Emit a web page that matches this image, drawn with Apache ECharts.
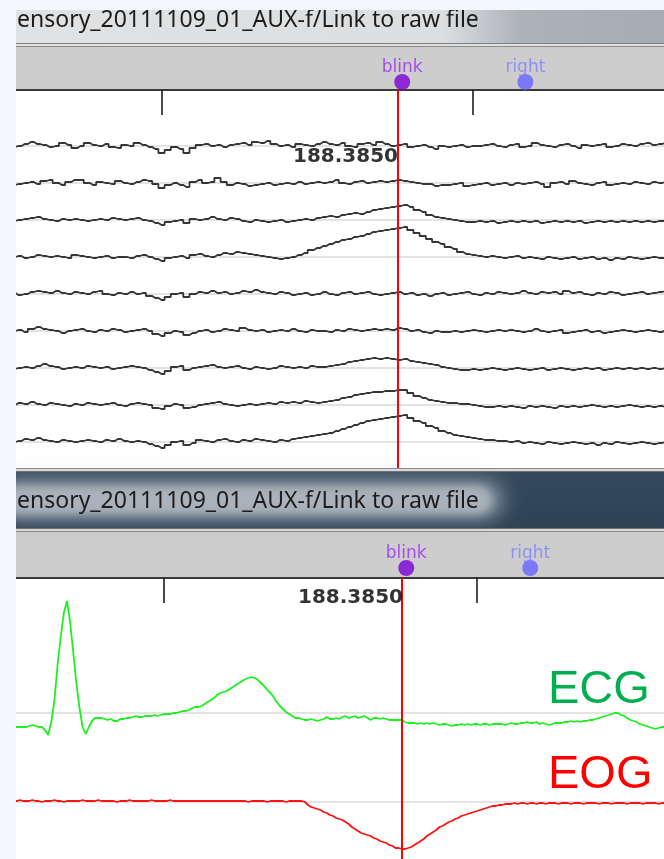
<!DOCTYPE html>
<html><head><meta charset="utf-8">
<script src="https://cdn.jsdelivr.net/npm/echarts@6/dist/echarts.min.js"></script>
<style>html,body{margin:0;padding:0;background:#f3f6fa;overflow:hidden}#c{width:664px;height:859px}</style>
</head><body><div id="c"></div>
<script>
// ---------- data ----------
const FILE_TITLE = 'sensory_20111109_01_AUX-f/Link to raw file';
const TIME_START = 187.76;      // first sample (s)
const EEG_STEP = 0.01;          // EEG sample spacing (s)
const AUX_STEP = 0.005;         // ECG/EOG sample spacing (s)
const CURSOR_TIME = 188.385;
const TICK_TIMES = [188.0, 188.5];
const EVENT_NAMES = ['blink', 'right'];
const EVENT_TIMES = [188.387, 188.585];
const AUX_NAMES = ['ECG', 'EOG'];

const EEG_CH1 = [-1,0,2,4,2,1,-1,0,3,1, -2,0,3,1,0,2,-1,-2,1,0, 3,1,-1,-3,-7,-4,-1,-3,-7,-2, 1,2,0,1,-1,1,2,3,1,4, 3,5,2,0,1,-1,2,1,0,2, 4,2,1,3,0,-1,2,3,1,4, 2,0,1,2,-1,0,1,-1,-3,0, -1,0,1,-1,0,0,1,2,0,-1, 1,2,-1,0,3,1,0,-1,1,2, 0,-2,1,0,1,2,-1,0,2,1, 0,2,3,1,2,3];
const EEG_CH2 = [-2,-1,0,1,-1,2,3,0,-2,1, 3,3,0,-2,1,0,-1,2,0,-1, 1,3,2,-1,-5,-2,0,-2,-4,1, 3,0,1,5,1,-2,0,-1,-3,-2, -1,0,-2,-1,0,-1,1,-1,0,1, 0,1,3,0,-1,1,2,0,1,2, 1,2,3,2,1,0,-1,-1,-3,-2, -2,-1,0,-3,-2,-1,0,-2,-1,0, -2,0,-1,0,1,-1,-4,0,1,-1, 2,0,-1,-2,0,1,-2,-1,0,-1, 1,0,-1,1,0,1];
const EEG_CH3 = [-1,0,1,2,3,1,0,-1,1,0, 1,0,-1,0,1,0,2,1,0,1, 2,0,-1,-3,-5,-2,-1,0,-3,1, 0,1,3,1,0,2,1,-1,-2,0, -1,-2,-1,0,-2,-1,0,1,0,2, 3,4,3,5,6,7,6,8,10,11, 12,13,14,15,13,10,8,5,3,2, 1,0,-1,-2,-2,-1,-2,-1,-3,-2, -1,-2,-1,-2,-1,-3,-2,-1,-2,-1, -2,-1,-3,-2,-1,-2,-1,-2,-1,-2, -1,-2,-1,-2,-1,-1];
const EEG_CH4 = [0,1,-1,0,2,1,0,1,0,-1, 2,1,0,-1,0,1,-1,0,0,-1, 1,2,0,-2,-4,-1,0,1,-1,2, 3,1,0,2,4,3,5,4,3,2, 1,0,-1,-2,-1,0,2,4,7,9, 11,13,15,17,18,20,21,23,25,26, 27,28,29,30,27,24,21,18,15,13, 10,8,5,3,2,1,0,1,0,-1, 0,1,-1,0,-1,-2,0,-1,-2,-1, 0,-2,-1,0,-2,-1,-3,-1,-2,0, -1,-2,-1,0,-1,-1];
const EEG_CH5 = [1,-1,0,2,3,2,1,3,1,0, 2,1,0,2,3,0,-1,1,0,2, 0,1,-2,-4,-6,-3,0,1,-3,0, 2,1,3,1,2,0,1,3,2,4, 2,1,0,2,1,-1,0,1,-1,0, 2,0,-1,1,2,0,1,2,0,-1, 0,1,2,0,1,-1,0,-2,0,1, -1,0,1,2,0,-1,1,0,2,1, 0,1,3,1,0,2,1,2,0,3, 1,2,0,-1,1,0,2,1,-1,0, 1,2,0,1,2,3];
const EEG_CH6 = [0,1,-1,2,4,2,1,0,-2,0, 1,2,0,-1,1,0,2,1,-1,0, 1,2,0,-3,-5,-2,0,-1,-4,-2, 0,1,-1,0,2,1,0,3,1,0, 1,-1,0,1,0,2,0,-1,1,0, 0,-1,1,0,2,1,0,1,2,1, 2,1,3,2,0,1,-1,-2,0,-1, -1,0,-1,0,1,0,-1,0,1,0, 1,0,-1,0,2,0,-1,0,1,-2, -1,0,1,-1,0,-2,-1,0,1,0, -1,0,1,0,-1,1];
const EEG_CH7 = [-1,0,1,0,2,4,2,1,-1,0, 1,0,2,1,0,1,-1,0,1,2, 1,0,-2,-4,-6,-3,1,2,-2,0, 1,2,3,1,0,1,2,0,-1,1, 0,-1,0,2,1,0,1,0,2,1, 1,2,3,4,6,7,8,9,10,9, 10,9,8,9,7,6,5,4,3,1, 0,-1,-2,-2,-1,-2,-1,0,-1,-2, -1,0,-1,-2,-1,0,-2,-1,0,-1, -2,-1,0,-1,0,-2,-1,0,-1,0, -1,0,-1,0,-1,0];
const EEG_CH8 = [0,2,1,3,1,0,2,1,0,-1, 1,0,2,1,0,1,2,0,-1,1, 2,1,0,-3,-4,-1,1,0,-3,-2, 0,1,2,3,1,0,-1,0,1,0, 1,2,1,3,2,3,2,4,3,2, 3,4,5,7,8,10,11,12,13,13, 14,14,15,15,12,9,7,5,4,3, 2,2,1,1,0,-1,-2,-2,-1,-2, -1,-2,-3,-1,-2,-1,-2,-3,-1,-2, -1,-2,-1,0,-1,-2,-1,-2,-1,0, -1,-2,-1,-2,-1,-2];
const EEG_CH9 = [0,1,3,2,4,2,1,0,2,1, 0,1,2,1,0,2,1,3,1,0, 1,0,-2,-4,-6,-3,0,1,-3,-1, 2,1,0,2,3,1,0,2,1,3, 2,1,0,2,1,3,4,5,6,7, 8,9,11,13,15,17,19,21,22,23, 24,25,26,27,24,21,19,16,14,11, 9,7,6,5,4,3,2,2,1,1, 0,1,-1,0,-1,-2,0,-1,-2,-1, 0,-1,-2,-1,-3,-1,-2,0,-1,-2, -1,0,-1,-2,-1,0];

const ECG = [-14,-14,-14,-14,-14,-13,-12,-13,-14,-14, -17,-22,-9,13,48,76,100,112,91,61, 30,5,-14,-21,-14,-8,-5,-5,-5,-6, -7,-6,-8,-8,-6,-6,-5,-5,-4,-3, -4,-4,-3,-3,-3,-2,-3,-2,-1,-1, -1,0,0,1,2,2,3,5,6,6, 7,9,11,13,15,18,20,21,22,24, 26,28,30,32,34,35,36,35,33,30, 27,23,20,16,11,7,4,1,-1,-3, -5,-5,-6,-7,-7,-6,-7,-8,-7,-6, -4,-6,-6,-5,-6,-4,-3,-5,-4,-3, -5,-4,-3,-5,-7,-5,-5,-6,-5,-6, -7,-7,-7,-7,-7,-9,-10,-10,-10,-11, -10,-11,-10,-11,-10,-11,-12,-11,-11,-12, -13,-12,-12,-11,-12,-11,-12,-11,-11,-12, -11,-11,-12,-11,-11,-11,-11,-12,-11,-10, -11,-11,-10,-10,-9,-10,-10,-9,-11,-10, -11,-12,-11,-10,-10,-10,-9,-9,-8,-9, -8,-9,-8,-8,-7,-7,-6,-5,-4,-3, -2,-1,0,0,-2,-3,-5,-7,-8,-9, -11,-12,-13,-14,-15,-16,-15,-14,-14,-14];
const EOG = [1,1,2,1,1,1,2,1,1,0, 1,1,1,2,1,1,0,1,1,1, 1,1,2,1,1,1,1,2,1,1, 1,1,1,0,1,1,1,2,1,1, 1,1,1,1,2,1,1,1,1,1, 2,1,1,1,1,1,1,1,1,1, 1,1,1,1,1,1,1,1,1,1, 1,1,1,1,1,0,1,1,1,1, 1,0,1,1,1,1,1,0,1,1, 1,1,1,0,-3,-5,-6,-7,-8,-10, -11,-13,-14,-16,-17,-18,-20,-22,-25,-27, -29,-31,-32,-33,-34,-36,-37,-39,-40,-41, -43,-44,-46,-46,-47,-47,-46,-45,-43,-41, -39,-37,-34,-32,-30,-28,-25,-24,-22,-20, -19,-17,-16,-14,-13,-12,-11,-10,-9,-8, -7,-6,-5,-4,-4,-3,-3,-2,-2,-2, -1,-2,-1,-1,-2,-1,-1,-2,-1,-1, -2,-1,-1,-1,-2,-1,-1,-1,-2,-1, -1,-1,-2,-1,-1,-1,-1,-2,-1,-1, -1,-2,-1,-1,-1,-1,-2,-1,-1,-1, -1,-2,-1,-1,-1,-1,-2,-1,-1,-1];

// ---------- layout / style ----------
const EEG_CHANNELS = [EEG_CH1, EEG_CH2, EEG_CH3, EEG_CH4, EEG_CH5, EEG_CH6, EEG_CH7, EEG_CH8, EEG_CH9];
const CH_TOP = 322, CH_SPACING = 37;           // display offsets (px-like units)
const AUX_OFFSETS = [146, 57];
const AUX_COLORS = ['#1ef01e', '#ff1212'];
const AUX_TEXT_COLORS = ['#00b050', '#ff0000'];
const EVENT_COLORS = ['#7d00d6', '#6464ff'];
const EVENT_LABEL_COLORS = ['#9a2cf0', '#7f7fff'];

const TOP_X = {min: 187.766077, max: 188.807878};
const BOT_X = {min: 187.763578, max: 188.798722};

const times = (n, step) => Array.from({length: n}, (_, i) => +(TIME_START + i * step).toFixed(4));
const eegT = times(EEG_CH1.length, EEG_STEP);
const auxT = times(ECG.length, AUX_STEP);

const chart = echarts.init(document.getElementById('c'), null, {renderer: 'canvas'});

const grids = [
  {left: 16, right: 0, top: 47, height: 43, show: true, backgroundColor: '#cdcdcd', borderWidth: 0},
  {left: 16, right: 0, top: 90, height: 378, show: true, backgroundColor: '#ffffff', borderWidth: 0},
  {left: 16, right: 0, top: 532, height: 45, show: true, backgroundColor: '#cdcdcd', borderWidth: 0},
  {left: 16, right: 0, top: 578, height: 281, show: true, backgroundColor: '#ffffff', borderWidth: 0}
];
function xAx(gi, range, ticks) {
  return {
    type: 'value', gridIndex: gi, min: range.min, max: range.max, position: 'top',
    axisLabel: {show: false}, splitLine: {show: false},
    axisLine: {show: ticks, onZero: false, lineStyle: {color: '#3a3a3a', width: 2}},
    axisTick: ticks ? {show: true, inside: true, length: 25, customValues: TICK_TIMES, lineStyle: {color: '#111', width: 1.5}} : {show: false}
  };
}
const xAxes = [xAx(0, TOP_X, false), xAx(1, TOP_X, true), xAx(2, BOT_X, false), xAx(3, BOT_X, true)];
const yAxes = [
  {type: 'value', gridIndex: 0, min: 0, max: 43, show: false},
  {type: 'value', gridIndex: 1, min: 0, max: 378, show: false},
  {type: 'value', gridIndex: 2, min: 0, max: 45, show: false},
  {type: 'value', gridIndex: 3, min: 0, max: 281, show: false}
];

const series = [];
// baselines (light gray) for EEG, below traces
series.push({type: 'line', xAxisIndex: 1, yAxisIndex: 1, data: [], z: 1, silent: true,
  markLine: {z: 1, symbol: 'none', silent: true, label: {show: false}, lineStyle: {color: '#e3e3e3', width: 2, type: 'solid'},
    data: EEG_CHANNELS.map((_, k) => ({yAxis: CH_TOP - k * CH_SPACING}))}});
EEG_CHANNELS.forEach((vals, k) => {
  series.push({type: 'line', xAxisIndex: 1, yAxisIndex: 1, symbol: 'none', z: 3, silent: true, step: 'middle',
    lineStyle: {color: '#363636', width: 1.8},
    data: vals.map((v, i) => [eegT[i], CH_TOP - k * CH_SPACING + v])});
});
series.push({type: 'line', xAxisIndex: 3, yAxisIndex: 3, data: [], z: 1, silent: true,
  markLine: {z: 1, symbol: 'none', silent: true, label: {show: false}, lineStyle: {color: '#e3e3e3', width: 2, type: 'solid'},
    data: AUX_OFFSETS.map(o => ({yAxis: o}))}});
[ECG, EOG].forEach((vals, k) => {
  series.push({type: 'line', xAxisIndex: 3, yAxisIndex: 3, symbol: 'none', z: 3, silent: true,
    lineStyle: {color: AUX_COLORS[k], width: 1.8},
    data: vals.map((v, i) => [auxT[i], AUX_OFFSETS[k] + v])});
});
// cursor lines + labels
[[1, 311, 3], [3, 261, 2]].forEach(([gi, ly, dist]) => {
  series.push({type: 'scatter', xAxisIndex: gi, yAxisIndex: gi, symbolSize: 0, z: 6, silent: true,
    data: [[CURSOR_TIME, ly]],
    label: {show: true, position: 'left', distance: dist, formatter: p => p.value[0].toFixed(4),
      fontFamily: '"DejaVu Sans"', fontWeight: 'bold', fontSize: 20, color: '#000'},
    markLine: {z: 6, symbol: 'none', silent: true, label: {show: false}, lineStyle: {color: '#ff0000', width: 2, type: 'solid'},
      data: [{xAxis: CURSOR_TIME}]}});
});
// events
[[0, 8], [2, 9]].forEach(([gi, row]) => {
  series.push({type: 'scatter', xAxisIndex: gi, yAxisIndex: gi, symbol: 'circle', symbolSize: 16, z: 6, silent: true,
    data: EVENT_TIMES.map((t, i) => ({value: [t, row], name: EVENT_NAMES[i],
      itemStyle: {color: EVENT_COLORS[i]},
      label: {show: true, position: 'top', distance: -2, formatter: '{b}', color: EVENT_LABEL_COLORS[i],
        fontFamily: '"DejaVu Sans"', fontSize: 17}}))});
});

const titleFont = '23px "Noto Sans"';
const graphic = [
  // top title bar
  {type: 'rect', shape: {x: 16, y: 10, width: 648, height: 33}, z: 0, silent: true,
    style: {fill: new echarts.graphic.LinearGradient(0, 0, 1, 0, [
      {offset: 0, color: '#e0e2e4'}, {offset: 0.66, color: '#dcdee0'}, {offset: 0.72, color: '#c4c8cc'},
      {offset: 0.78, color: '#adb2b7'}, {offset: 1, color: '#a7acb1'}])}},
  {type: 'text', x: 6, y: 20, z: 2, silent: true, style: {text: FILE_TITLE, font: titleFont, fill: '#1c1c1c', verticalAlign: 'middle'}},
  {type: 'rect', shape: {x: 16, y: 43, width: 648, height: 1}, z: 2, silent: true, style: {fill: '#7b8085'}},
  {type: 'rect', shape: {x: 16, y: 44, width: 648, height: 2}, z: 2, silent: true, style: {fill: '#e0e0e0'}},
  {type: 'rect', shape: {x: 16, y: 46, width: 648, height: 1}, z: 2, silent: true, style: {fill: '#8a8a8a'}},
  // bottom title bar
  {type: 'rect', shape: {x: 16, y: 468, width: 648, height: 1}, z: 2, silent: true, style: {fill: '#8a8a8a'}},
  {type: 'rect', shape: {x: 16, y: 469, width: 648, height: 2}, z: 2, silent: true, style: {fill: '#d8d8d8'}},
  {type: 'rect', shape: {x: 16, y: 471, width: 648, height: 1}, z: 2, silent: true, style: {fill: '#6d7278'}},
  {type: 'rect', shape: {x: 16, y: 472, width: 648, height: 56}, z: 0, silent: true,
    style: {fill: new echarts.graphic.LinearGradient(0, 0, 0, 1, [{offset: 0, color: '#34495d'}, {offset: 1, color: '#2e4256'}])}},
  // soft glow behind the title text (shadow of an off-screen rect)
  {type: 'rect', shape: {x: 1000, y: 484, width: 500, height: 32, r: 14}, z: 1, silent: true,
    style: {fill: '#aab3bc', shadowBlur: 22, shadowColor: '#aab3bc', shadowOffsetX: -1000}},
  {type: 'rect', shape: {x: 1000, y: 487, width: 490, height: 26, r: 12}, z: 1, silent: true,
    style: {fill: '#aab3bc', shadowBlur: 10, shadowColor: '#aab3bc', shadowOffsetX: -1000}},
  {type: 'text', x: 6, y: 501, z: 2, silent: true, style: {text: FILE_TITLE, font: titleFont, fill: '#1c1c1c', verticalAlign: 'middle'}},
  {type: 'rect', shape: {x: 16, y: 528, width: 648, height: 1}, z: 2, silent: true, style: {fill: '#6d7278'}},
  {type: 'rect', shape: {x: 16, y: 529, width: 648, height: 2}, z: 2, silent: true, style: {fill: '#d8d8d8'}},
  {type: 'rect', shape: {x: 16, y: 531, width: 648, height: 1}, z: 2, silent: true, style: {fill: '#8a8a8a'}},
  // channel names
  {type: 'text', x: 548, y: 690, z: 10, silent: true, style: {text: AUX_NAMES[0], font: '47px "Liberation Sans"', fill: AUX_TEXT_COLORS[0], verticalAlign: 'middle'}},
  {type: 'text', x: 548, y: 775, z: 10, silent: true, style: {text: AUX_NAMES[1], font: '47px "Liberation Sans"', fill: AUX_TEXT_COLORS[1], verticalAlign: 'middle'}},
  // page margin covering clipped title text
  {type: 'rect', shape: {x: 0, y: 0, width: 16, height: 859}, z: 100, silent: true, style: {fill: '#f3f6fa'}},
  {type: 'rect', shape: {x: 0, y: 0, width: 664, height: 10}, z: 100, silent: true, style: {fill: '#f3f6fa'}}
];

chart.setOption({
  animation: false,
  backgroundColor: '#f3f6fa',
  grid: grids, xAxis: xAxes, yAxis: yAxes, series: series, graphic: graphic
});
</script></body></html>
